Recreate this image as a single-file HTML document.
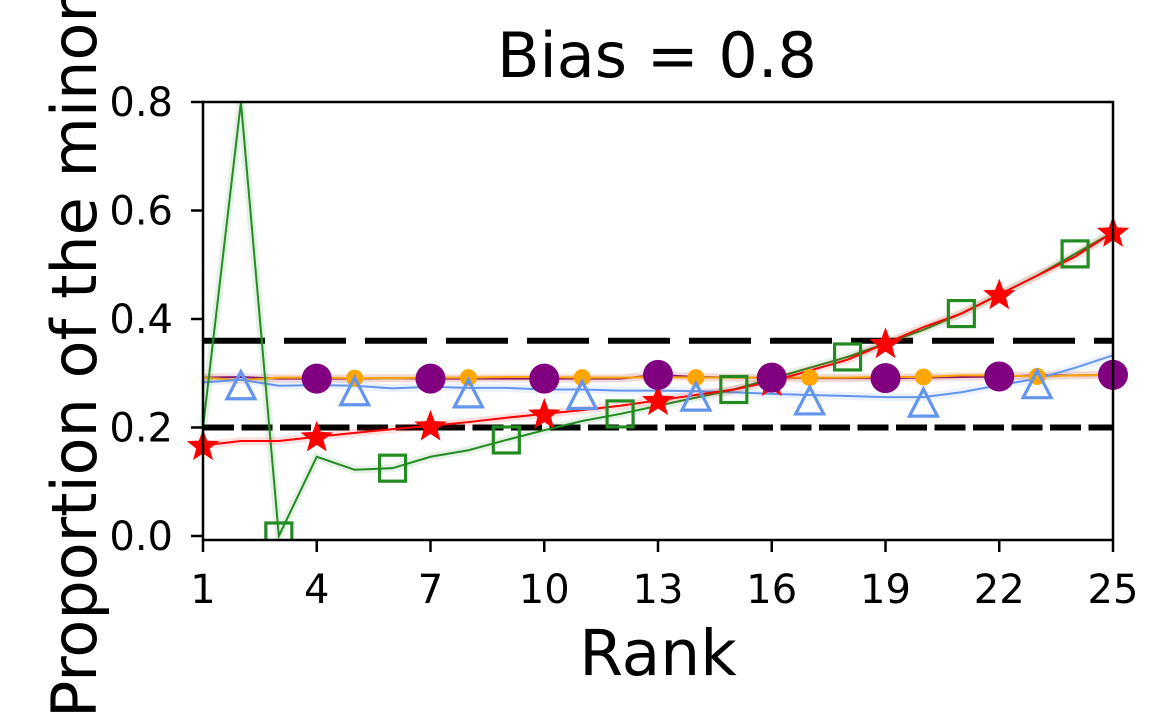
<!DOCTYPE html>
<html><head><meta charset="utf-8"><style>
html,body{margin:0;padding:0;background:#fff;}
svg{display:block;font-family:"DejaVu Sans","Liberation Sans",sans-serif;}
</style></head><body>
<svg id="chart" width="1169" height="717" viewBox="0 0 1169 717">
<g id="plot"></g>
<text x="657" y="77" font-size="62" text-anchor="middle">Bias = 0.8</text>
<text x="658" y="675" font-size="63" text-anchor="middle">Rank</text>
<text transform="translate(96,718) rotate(-90)" font-size="62" text-anchor="start">Proportion of the minority group</text>
</svg>
<script>
const ranks = [1,2,3,4,5,6,7,8,9,10,11,12,13,14,15,16,17,18,19,20,21,22,23,24,25];
const greenVals = [0.20,0.80,0.00,0.146,0.122,0.125,0.146,0.158,0.177,0.195,0.212,0.225,0.24,0.255,0.27,0.29,0.31,0.33,0.355,0.38,0.41,0.445,0.48,0.52,0.56];
const redVals = [0.167,0.175,0.175,0.183,0.19,0.197,0.203,0.21,0.218,0.225,0.232,0.24,0.25,0.26,0.27,0.285,0.305,0.325,0.355,0.385,0.41,0.445,0.48,0.515,0.56];
const purpleVals = [0.292,0.293,0.29,0.29,0.29,0.291,0.29,0.29,0.29,0.29,0.29,0.29,0.297,0.293,0.292,0.292,0.291,0.291,0.291,0.292,0.293,0.294,0.296,0.296,0.297];
const orangeVals = [0.292,0.287,0.292,0.292,0.291,0.291,0.292,0.292,0.293,0.293,0.292,0.292,0.293,0.292,0.292,0.292,0.292,0.292,0.293,0.293,0.296,0.296,0.294,0.296,0.297];
const blueVals = [0.283,0.288,0.277,0.278,0.277,0.272,0.275,0.273,0.273,0.27,0.27,0.268,0.268,0.267,0.265,0.262,0.26,0.258,0.256,0.256,0.265,0.278,0.29,0.31,0.333];
const refLines = [0.36, 0.2];
const xTicks = [1,4,7,10,13,16,19,22,25];
const yTicks = [0.0,0.2,0.4,0.6,0.8];

const L=203,R=1113,T=102,B=540;
const yMin=-0.0074,yMax=0.8;
const xs=r=>L+(r-1)/(25-1)*(R-L);
const ys=v=>B-(v-yMin)/(yMax-yMin)*(B-T);
const NS="http://www.w3.org/2000/svg";
const plot=document.getElementById('plot');
function mk(tag,attrs,parent){const e=document.createElementNS(NS,tag);for(const k in attrs)e.setAttribute(k,attrs[k]);(parent||plot).appendChild(e);return e;}

const clip=mk('clipPath',{id:'clipArea'});
mk('rect',{x:L-20,y:T-14,width:R-L+40,height:B-T+14},clip);
const g=mk('g',{'clip-path':'url(#clipArea)'});

refLines.forEach((v,i)=>{
  const ln=mk('line',{x1:L,x2:R,y1:ys(v),y2:ys(v),stroke:'#000','stroke-width':6,'stroke-dasharray':i===0?'62,19':'31,7.5'},g);
  
  
});

function series(vals,color,name,w){
  const pts=vals.map((v,i)=>xs(ranks[i])+','+ys(v)).join(' ');
  const band=mk('polyline',{points:pts,fill:'none',stroke:color,'stroke-opacity':0.12,'stroke-width':8},g);
  
  
  const p=mk('polyline',{points:pts,fill:'none',stroke:color,'stroke-width':w||2},g);
  
  
}
series(purpleVals,'#800080','purple-series');
series(orangeVals,'#ffa500','orange-series');
series(blueVals,'#6495ed','blue-series');
series(greenVals,'#228b22','green-series');
series(redVals,'#ff0000','red-series');

function starPath(cx,cy,r){let d='';for(let k=0;k<10;k++){const rr=k%2?r*0.42:r;const a=-Math.PI/2+k*Math.PI/5;d+=(k?'L':'M')+(cx+rr*Math.cos(a)).toFixed(1)+','+(cy+rr*Math.sin(a)).toFixed(1);}return d+'Z';}

ranks.forEach((r,i)=>{
  const x=xs(r);
  if((r-1)%3===0){
    const s=mk('path',{d:starPath(x,ys(redVals[i])+1,17),fill:'#ff0000'},g);
    
    
  }
  if((r-4)%3===0&&r>=4){
    const c=mk('circle',{cx:x,cy:ys(purpleVals[i]),r:15,fill:'#800080'},g);
    
    
  }
  if((r-5)%3===0&&r>=5){
    const c=mk('circle',{cx:x,cy:ys(orangeVals[i]),r:8.5,fill:'#ffa500'},g);
    
    
  }
  if((r-2)%3===0&&r>=2){
    const y=ys(blueVals[i])+6;
    const t=mk('polygon',{points:`${x},${y-14} ${x-14},${y+13} ${x+14},${y+13}`,fill:'none',stroke:'#6495ed','stroke-width':3.2},g);
    
    
  }
  if(r%3===0){
    const y=ys(greenVals[i]);
    const s=mk('rect',{x:x-13,y:y-13,width:26,height:26,fill:'none',stroke:'#228b22','stroke-width':3.2},g);
    
    
  }
});

const frame=mk('rect',{x:L,y:T,width:R-L,height:B-T,fill:'none',stroke:'#000','stroke-width':2.5});



xTicks.forEach(t=>{
  const x=xs(t);
  const tk=mk('line',{x1:x,x2:x,y1:B,y2:B+12,stroke:'#000','stroke-width':2.5});
  
  
  const lb=mk('text',{x:x,y:603,'font-size':40,'text-anchor':'middle'});
  lb.textContent=t;
  
  
});
yTicks.forEach(t=>{
  const y=ys(t);
  const tk=mk('line',{x1:L-12,x2:L,y1:y,y2:y,stroke:'#000','stroke-width':2.5});
  
  
  const lb=mk('text',{x:173,y:y+14,'font-size':40,'text-anchor':'end'});
  lb.textContent=t.toFixed(1);
  
  
});
</script>
</body></html>
